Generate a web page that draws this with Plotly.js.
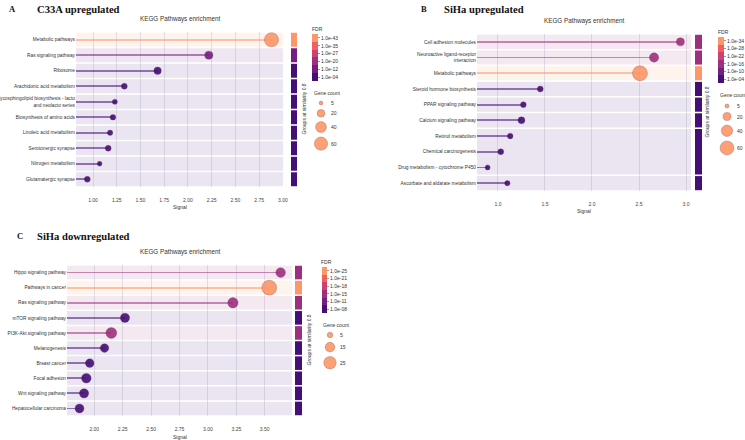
<!DOCTYPE html>
<html>
<head>
<meta charset="utf-8">
<script src="https://cdn.plot.ly/plotly-3.0.1.min.js"></script>
<style>
  html, body { margin: 0; padding: 0; background: #fff; }
  #chart { width: 745px; height: 440px; }
</style>
</head>
<body>
<div id="chart"></div>
<script>
// ---- A: C33A upregulated ----
const pathwaysA = ['Metabolic pathways', 'Ras signaling pathway', 'Ribosome', 'Arachidonic acid metabolism',
  'Glycosphingolipid biosynthesis - lacto<br>and neolacto series', 'Biosynthesis of amino acids',
  'Linoleic acid metabolism', 'Serotonergic synapse', 'Nitrogen metabolism', 'Glutamatergic synapse'];
const signalA = [2.88, 2.22, 1.68, 1.33, 1.23, 1.21, 1.18, 1.16, 1.07, 0.94];
const fdrA = [1e-43, 1e-13, 1e-7, 1e-5, 1e-5, 1e-6, 1e-4, 1e-5, 1e-4, 1e-4];
const genesA = [68, 23, 19, 12, 9, 11, 10, 12, 8, 12];
const groupsA = [1, 2, 3, 4, 5, 6, 7, 8, 9, 10];
const fdrTicksA = ['1.0e-43', '1.0e-35', '1.0e-27', '1.0e-20', '1.0e-12', '1.0e-04'];
const geneKeyA = [5, 20, 40, 60];

// ---- B: SiHa upregulated ----
const pathwaysB = ['Cell adhesion molecules', 'Neuroactive ligand-receptor<br>interaction', 'Metabolic pathways',
  'Steroid hormone biosynthesis', 'PPAR signaling pathway', 'Calcium signaling pathway', 'Retinol metabolism',
  'Chemical carcinogenesis', 'Drug metabolism - cytochrome P450', 'Ascorbate and aldarate metabolism'];
const signalB = [2.94, 2.66, 2.51, 1.45, 1.27, 1.25, 1.13, 1.03, 0.89, 1.10];
const fdrB = [1e-17, 1e-16, 1e-34, 1e-6, 1e-5, 1e-6, 1e-5, 1e-5, 1e-4, 1e-4];
const genesB = [20, 27, 69, 11, 10, 15, 10, 11, 8, 9];
const groupsB = [1, 2, 3, 4, 5, 6, 7, 7, 7, 8];
const fdrTicksB = ['1.0e-34', '1.0e-28', '1.0e-22', '1.0e-16', '1.0e-10', '1.0e-04'];
const geneKeyB = [5, 20, 40, 60];

// ---- C: SiHa downregulated ----
const pathwaysC = ['Hippo signaling pathway', 'Pathways in cancer', 'Ras signaling pathway', 'mTOR signaling pathway',
  'PI3K-Akt signaling pathway', 'Melanogenesis', 'Breast cancer', 'Focal adhesion', 'Wnt signaling pathway',
  'Hepatocellular carcinoma'];
const signalC = [3.64, 3.54, 3.22, 2.27, 2.15, 2.09, 1.96, 1.93, 1.91, 1.87];
const fdrC = [1e-15, 1e-25, 1e-15, 1e-9, 1e-14, 1e-8, 1e-8, 1e-9, 1e-8, 1e-8];
const genesC = [15, 35, 17, 14, 19, 12, 12, 15, 14, 13];
const groupsC = [1, 2, 3, 4, 5, 6, 7, 8, 9, 10];
const fdrTicksC = ['1.0e-25', '1.0e-21', '1.0e-18', '1.0e-15', '1.0e-11', '1.0e-08'];
const geneKeyC = [5, 15, 25];

const panelTitles = ['C33A upregulated', 'SiHa upregulated', 'SiHa downregulated'];
const panelLetters = ['A', 'B', 'C'];

// six-step magma palette, least to most significant
const palette = ['#440f76', '#721f81', '#9e2f7f', '#cd4071', '#f1605d', '#fd9668'];

const W = 745, H = 440;
const px = x => x / W;
const py = y => 1 - y / H;
const SANS = 'Liberation Sans, Arial, sans-serif';
const SERIF = 'Liberation Serif, Times New Roman, serif';

function rgb(h) {
  return [1, 3, 5].map(i => parseInt(h.slice(i, i + 2), 16));
}
function rgba(h, a) { const c = rgb(h); return `rgba(${c[0]},${c[1]},${c[2]},${a})`; }
function tint(h, a) {
  const c = rgb(h).map(v => Math.round(255 * (1 - a) + v * a));
  return `rgb(${c[0]},${c[1]},${c[2]})`;
}

const data = [
  { names: pathwaysA, signal: signalA, fdr: fdrA, genes: genesA, groups: groupsA, ticks: fdrTicksA, key: geneKeyA },
  { names: pathwaysB, signal: signalB, fdr: fdrB, genes: genesB, groups: groupsB, ticks: fdrTicksB, key: geneKeyB },
  { names: pathwaysC, signal: signalC, fdr: fdrC, genes: genesC, groups: groupsC, ticks: fdrTicksC, key: geneKeyC }
];

// pixel geometry of each panel
const geom = [
  { box: [76, 283, 32, 187], xr: [0.821, 3.001], dtick: 0.25, fmt: '.2f', strip: [291, 297], grpX: 303,
    cb: { x: 312, t: 34, b: 81, w: 6 }, fdrT: [310, 29], geneT: [312, 93], legX: 321, legY0: 103, legLabX: 329,
    letter: [7, 9], title: [35, 9], kegg: 19, sig: 207, k: 1.72 },
  { box: [477, 691, 34, 191], xr: [0.777, 3.053], dtick: 0.5, fmt: '.1f', strip: [695, 702], grpX: 707,
    cb: { x: 718, t: 37, b: 83, w: 6 }, fdrT: [716, 32], geneT: [718, 95], legX: 727, legY0: 106, legLabX: 735,
    letter: [419, 9], title: [442, 9], kegg: 21, sig: 211, k: 1.8 },
  { box: [67, 292, 265, 416], xr: [1.76, 3.74], dtick: 0.25, fmt: '.2f', strip: [295, 302], grpX: 308,
    cb: { x: 322, t: 267, b: 313, w: 5 }, fdrT: [319, 262], geneT: [321, 325], legX: 330, legY0: 335, legLabX: 338,
    letter: [15, 236], title: [35, 236], kegg: 252, sig: 437, k: 2.5 }
];

const traces = [];
const shapes = [];
const annotations = [];
const layout = {
  width: W, height: H,
  margin: { l: 0, r: 0, t: 0, b: 0, autoexpand: false },
  paper_bgcolor: '#fff', plot_bgcolor: 'rgba(0,0,0,0)',
  font: { family: SANS, color: '#333' },
  showlegend: false,
  bargap: 0
};

function ann(text, x, y, o) {
  annotations.push(Object.assign({
    text, x: px(x), y: py(y), xref: 'paper', yref: 'paper', showarrow: false,
    xanchor: 'center', yanchor: 'middle', font: { size: 5, color: '#333', family: SANS }
  }, o || {}));
}

data.forEach((d, i) => {
  const g = geom[i];
  const s = i === 0 ? '' : String(i + 1);
  const n = d.names.length;

  // colour scale: six bands centred on evenly spaced ticks
  const vals = d.fdr.map(f => -Math.log10(f));
  const vmax = Math.max(...vals), vmin = Math.min(...vals);
  const step = (vmax - vmin) / 5;
  const cmin = vmin - step / 2, cmax = vmax + step / 2;
  const tickvals = d.ticks.map((_, k) => vmax - k * step);
  const colorscale = [];
  palette.forEach((c, k) => { colorscale.push([k / 6, c], [(k + 1) / 6, c]); });
  const colorOf = v => palette[Math.max(0, Math.min(5, Math.floor((v - cmin) / (cmax - cmin) * 6)))];
  const rowColors = vals.map(colorOf);

  layout['coloraxis' + s] = {
    cmin, cmax, colorscale, showscale: true,
    colorbar: {
      x: px(g.cb.x), xanchor: 'left', xpad: 0,
      y: py(g.cb.t), yanchor: 'top', ypad: 0,
      len: g.cb.b - g.cb.t, lenmode: 'pixels',
      thickness: g.cb.w, thicknessmode: 'pixels',
      outlinewidth: 0, borderwidth: 0,
      tickmode: 'array', tickvals, ticktext: d.ticks,
      ticks: 'outside', ticklen: 2.5, tickwidth: 0.6, tickcolor: '#555',
      tickfont: { size: 5, color: '#333', family: SANS },
      title: { text: '' }
    }
  };

  layout['xaxis' + s] = {
    domain: [px(g.box[0]), px(g.box[1])], range: g.xr, anchor: 'y' + s,
    tick0: 0, dtick: g.dtick, tickformat: g.fmt,
    showgrid: true, gridcolor: 'rgba(175,170,195,0.45)', gridwidth: 0.8,
    zeroline: false, showline: false,
    ticks: 'outside', ticklen: 8, tickcolor: 'rgba(0,0,0,0)',
    tickfont: { size: 5, color: '#444' }, fixedrange: true
  };
  layout['yaxis' + s] = {
    domain: [py(g.box[3]), py(g.box[2])], anchor: 'x' + s,
    type: 'category', categoryorder: 'array', categoryarray: d.names,
    range: [n - 0.5, -0.5],
    showgrid: false, zeroline: false, showline: false, ticks: '',
    tickfont: { size: 4.8, color: '#333' }, fixedrange: true
  };

  // stems from the left edge to each point
  traces.push({
    type: 'bar', orientation: 'h', xaxis: 'x' + s, yaxis: 'y' + s,
    y: d.names, x: d.signal.map(v => v - g.xr[0]), base: g.xr[0],
    width: 0.12, marker: { color: rowColors.map(c => rgba(c, 0.55)), line: { width: 0 } },
    hoverinfo: 'skip'
  });
  // points
  traces.push({
    type: 'scatter', mode: 'markers', xaxis: 'x' + s, yaxis: 'y' + s,
    x: d.signal, y: d.names, cliponaxis: false,
    marker: {
      color: vals, coloraxis: 'coloraxis' + s,
      size: d.genes.map(v => g.k * Math.sqrt(v)), sizemode: 'diameter',
      opacity: 0.9, line: { color: 'rgba(90,45,45,0.35)', width: 0.8 }
    },
    hovertemplate: '%{y}<br>Signal %{x}<extra></extra>'
  });

  // row bands and group strip
  const ids = [...new Set(d.groups)];
  ids.forEach(id => {
    const rows = d.groups.map((gid, r) => gid === id ? r : -1).filter(r => r >= 0);
    const lo = Math.min(...rows), hi = Math.max(...rows);
    const best = rows.reduce((a, r) => vals[r] > vals[a] ? r : a, rows[0]);
    const col = rowColors[best];
    shapes.push({
      type: 'rect', xref: 'x' + s + ' domain', yref: 'y' + s, x0: 0, x1: 1,
      y0: lo - 0.45, y1: hi + 0.45, fillcolor: tint(col, 0.11), line: { width: 0 }, layer: 'below'
    });
    shapes.push({
      type: 'rect', xref: 'paper', yref: 'y' + s, x0: px(g.strip[0]), x1: px(g.strip[1]),
      y0: lo - 0.45, y1: hi + 0.45, fillcolor: col, line: { width: 0 }, layer: 'above'
    });
  });

  // gene count key
  const dk = d.key.map(v => g.k * Math.sqrt(v));
  const ys = [];
  let yy = g.legY0;
  dk.forEach((dd, j) => { if (j > 0) yy += (dk[j - 1] + dd) / 2 + 4.5; ys.push(yy); });
  traces.push({
    type: 'scatter', mode: 'markers', xaxis: 'x4', yaxis: 'y4', cliponaxis: false,
    x: d.key.map(() => g.legX), y: ys,
    marker: { color: palette[5], size: dk, sizemode: 'diameter', opacity: 0.9,
      line: { color: 'rgba(90,45,45,0.35)', width: 0.8 } },
    hoverinfo: 'skip'
  });
  d.key.forEach((v, j) => ann(String(v), g.legLabX, ys[j], { xanchor: 'left' }));

  // texts
  ann('<b>' + panelLetters[i] + '</b>', g.letter[0], g.letter[1],
    { xanchor: 'left', font: { size: 8.5, color: '#111', family: SERIF } });
  ann('<b>' + panelTitles[i] + '</b>', g.title[0], g.title[1],
    { xanchor: 'left', font: { size: 10.6, color: '#111', family: SERIF } });
  ann('KEGG Pathways enrichment', (g.box[0] + g.box[1]) / 2, g.kegg, { font: { size: 6.3, color: '#333', family: SANS } });
  ann('Signal', (g.box[0] + g.box[1]) / 2, g.sig, { font: { size: 5, color: '#333', family: SANS } });
  ann('Groups at similarity 0.8', g.grpX, (g.box[2] + g.box[3]) / 2, { textangle: -90 });
  ann('FDR', g.fdrT[0], g.fdrT[1], { xanchor: 'left' });
  ann('Gene count', g.geneT[0], g.geneT[1], { xanchor: 'left' });
});

// full-figure pixel axes for the size keys
layout.xaxis4 = { domain: [0, 1], range: [0, W], anchor: 'y4', visible: false, fixedrange: true };
layout.yaxis4 = { domain: [0, 1], range: [H, 0], anchor: 'x4', visible: false, fixedrange: true };

layout.shapes = shapes;
layout.annotations = annotations;

Plotly.newPlot('chart', traces, layout, { displayModeBar: false, staticPlot: true });
</script>
</body>
</html>
